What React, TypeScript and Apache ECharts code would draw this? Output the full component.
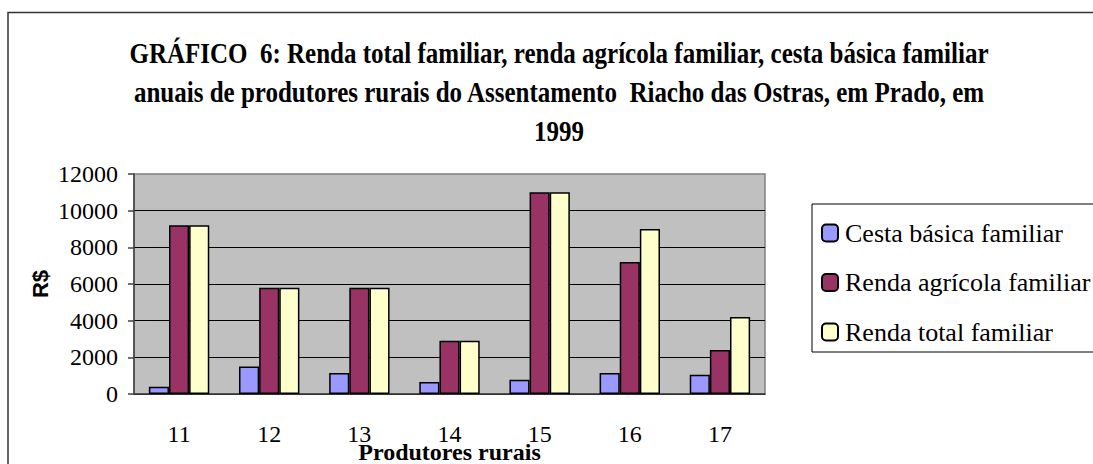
import React, { useEffect, useRef } from "react";
import * as echarts from "echarts";

const categories = ["11", "12", "13", "14", "15", "16", "17"];
const cestaBasica = [400, 1500, 1150, 650, 780, 1150, 1050];
const rendaAgricola = [9200, 5800, 5800, 2900, 11000, 7200, 2400];
const rendaTotal = [9200, 5800, 5800, 2900, 11000, 9000, 4200];
const seriesNames = ["Cesta básica familiar", "Renda agrícola familiar", "Renda total familiar"];
const titleLines = [
  "GRÁFICO  6: Renda total familiar, renda agrícola familiar, cesta básica familiar",
  "anuais de produtores rurais do Assentamento  Riacho das Ostras, em Prado, em",
  "1999",
];

const SERIF = '"Liberation Serif", "Times New Roman", serif';

export default function App() {
  const ref = useRef<HTMLDivElement>(null);
  useEffect(() => {
    if (!ref.current) return;
    const chart = echarts.init(ref.current, undefined, { renderer: "svg" });
    const titleY = [53, 92, 131];
    const barStyle = (color: string) => ({ color, borderColor: "#000", borderWidth: 1.5 });
    chart.setOption({
      animation: false,
      backgroundColor: "#fff",
      graphic: [
        {
          type: "rect",
          shape: { x: 8, y: 12.5, width: 1200, height: 600 },
          style: { fill: "none", stroke: "#333", lineWidth: 1.5 },
          silent: true,
        },
        ...titleLines.map((t, i) => ({
          type: "text",
          x: 559,
          y: titleY[i],
          scaleX: 0.862,
          style: {
            text: t,
            fontFamily: SERIF,
            fontWeight: "bold",
            fontSize: 29,
            fill: "#000",
            align: "center",
            verticalAlign: "middle",
          },
        })),
        {
          type: "rect",
          shape: { x: 812, y: 204, width: 300, height: 148 },
          style: { fill: "#fff", stroke: "#000", lineWidth: 1 },
          z: -1,
          silent: true,
        },
      ],
      legend: {
        orient: "vertical",
        left: 821,
        top: 220,
        padding: 0,
        itemGap: 23.5,
        itemWidth: 16,
        itemHeight: 17,
        data: seriesNames,
        textStyle: { fontFamily: SERIF, fontSize: 26, lineHeight: 26, color: "#000", padding: [0, 0, 0, 2] },
      },
      grid: {
        left: 134,
        right: 328,
        top: 174,
        bottom: 70,
        containLabel: false,
        outerBoundsMode: "none",
        show: true,
        backgroundColor: "#C0C0C0",
        borderColor: "#808080",
        borderWidth: 1.5,
      },
      xAxis: {
        type: "category",
        data: categories,
        name: "Produtores rurais",
        nameLocation: "middle",
        nameGap: 46,
        nameMoveOverlap: false,
        nameTextStyle: { fontFamily: SERIF, fontWeight: "bold", fontSize: 24, color: "#000", lineHeight: 24 },
        axisLine: { lineStyle: { color: "#404040", width: 1.5 } },
        axisTick: { length: 6, lineStyle: { color: "#404040", width: 1.5 } },
        axisLabel: { fontFamily: SERIF, fontSize: 24, color: "#000", margin: 28 },
      },
      yAxis: {
        type: "value",
        min: 0,
        max: 12000,
        interval: 2000,
        name: "R$",
        nameLocation: "middle",
        nameGap: 83,
        nameMoveOverlap: false,
        nameTextStyle: { fontFamily: '"Liberation Sans", Arial, sans-serif', fontWeight: "bold", fontSize: 22, color: "#000" },
        axisLine: { show: true, lineStyle: { color: "#404040", width: 1.5 } },
        axisTick: { show: true, length: 6, lineStyle: { color: "#404040", width: 1.5 } },
        axisLabel: {
          fontFamily: SERIF,
          fontSize: 24,
          color: "#000",
          margin: 16,
          padding: [6, 0, 0, 0],
          formatter: (v: number) => String(v),
        },
        splitLine: { show: true, showMaxLine: false, lineStyle: { color: "#000", width: 1 } },
      },
      series: [
        { name: seriesNames[0], type: "bar", data: cestaBasica, itemStyle: barStyle("#9999FF"), barGap: "0%", barCategoryGap: "33%" },
        { name: seriesNames[1], type: "bar", data: rendaAgricola, itemStyle: barStyle("#993366"), barGap: "0%", barCategoryGap: "33%" },
        { name: seriesNames[2], type: "bar", data: rendaTotal, itemStyle: barStyle("#FFFFCC"), barGap: "0%", barCategoryGap: "33%" },
      ],
    });
    return () => chart.dispose();
  }, []);
  return <div ref={ref} style={{ position: "absolute", left: 0, top: 0, width: 1093, height: 464 }} />;
}
